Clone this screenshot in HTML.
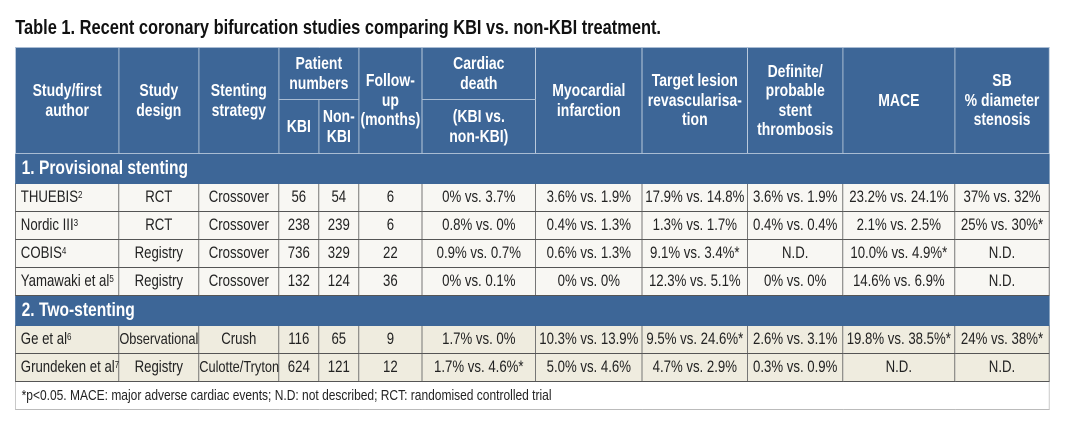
<!DOCTYPE html>
<html><head><meta charset="utf-8"><style>
body{margin:0;width:1067px;height:431px;background:#fff;font-family:"Liberation Sans",sans-serif;color:#222;position:relative;overflow:hidden}
#w{position:absolute;left:0;top:0;width:1334px;height:431px;transform:scaleX(0.8);transform-origin:0 0}
.title{position:absolute;left:19px;top:16px;font-weight:bold;font-size:20.5px;color:#111}
table{position:absolute;left:19px;top:47px;border-collapse:collapse;table-layout:fixed;width:1292px}
td,th{padding:0;text-align:center;font-size:16.5px;white-space:nowrap;overflow:hidden}
th{background:#3d6697;color:#fff;font-weight:bold;font-size:17.5px;line-height:19.5px;border:1px solid #a9bcd3}
td{border:1px solid #555;background:#f8f7f3}
tr.d td{height:27px}
tr.b td{background:#efecdf}
td.l{text-align:left;padding-left:6px}
tr.s td{background:#3d6697;color:#fff;font-weight:bold;font-size:19.5px;text-align:left;padding-left:7px;height:29px;border:1px solid #3d6697}
tr.f td{background:#fff;text-align:left;padding-left:7px;font-size:15px;height:27px;border:1px solid #bbb}
sup{font-size:10px;vertical-align:4px;line-height:0}
</style></head><body><div id="w">
<div class="title">Table 1. Recent coronary bifurcation studies comparing KBI vs. non-KBI treatment.</div>
<table>
<colgroup><col style="width:129px"><col style="width:100px"><col style="width:100px"><col style="width:50px"><col style="width:50px"><col style="width:79px"><col style="width:142px"><col style="width:133px"><col style="width:132px"><col style="width:119px"><col style="width:140px"><col style="width:118px"></colgroup>
<tr style="height:52px"><th rowspan="2">Study/first<br>author</th><th rowspan="2">Study<br>design</th><th rowspan="2">Stenting<br>strategy</th><th colspan="2">Patient<br>numbers</th><th rowspan="2">Follow-<br>up<br>(months)</th><th>Cardiac<br>death</th><th rowspan="2">Myocardial<br>infarction</th><th rowspan="2">Target lesion<br>revascularisa-<br>tion</th><th rowspan="2">Definite/<br>probable<br>stent<br>thrombosis</th><th rowspan="2">MACE</th><th rowspan="2">SB<br>% diameter<br>stenosis</th></tr>
<tr style="height:54px"><th>KBI</th><th>Non-<br>KBI</th><th>(KBI vs.<br>non-KBI)</th></tr>
<tr class="s"><td colspan="12">1. Provisional stenting</td></tr>
<tr class="d"><td class="l">THUEBIS<sup>2</sup></td><td>RCT</td><td>Crossover</td><td>56</td><td>54</td><td>6</td><td>0% vs. 3.7%</td><td>3.6% vs. 1.9%</td><td>17.9% vs. 14.8%</td><td>3.6% vs. 1.9%</td><td>23.2% vs. 24.1%</td><td>37% vs. 32%</td></tr>
<tr class="d"><td class="l">Nordic III<sup>3</sup></td><td>RCT</td><td>Crossover</td><td>238</td><td>239</td><td>6</td><td>0.8% vs. 0%</td><td>0.4% vs. 1.3%</td><td>1.3% vs. 1.7%</td><td>0.4% vs. 0.4%</td><td>2.1% vs. 2.5%</td><td>25% vs. 30%*</td></tr>
<tr class="d"><td class="l">COBIS<sup>4</sup></td><td>Registry</td><td>Crossover</td><td>736</td><td>329</td><td>22</td><td>0.9% vs. 0.7%</td><td>0.6% vs. 1.3%</td><td>9.1% vs. 3.4%*</td><td>N.D.</td><td>10.0% vs. 4.9%*</td><td>N.D.</td></tr>
<tr class="d"><td class="l">Yamawaki et al<sup>5</sup></td><td>Registry</td><td>Crossover</td><td>132</td><td>124</td><td>36</td><td>0% vs. 0.1%</td><td>0% vs. 0%</td><td>12.3% vs. 5.1%</td><td>0% vs. 0%</td><td>14.6% vs. 6.9%</td><td>N.D.</td></tr>
<tr class="s"><td colspan="12">2. Two-stenting</td></tr>
<tr class="d b"><td class="l">Ge et al<sup>6</sup></td><td style="font-size:16px">Observational</td><td>Crush</td><td>116</td><td>65</td><td>9</td><td>1.7% vs. 0%</td><td>10.3% vs. 13.9%</td><td>9.5% vs. 24.6%*</td><td>2.6% vs. 3.1%</td><td>19.8% vs. 38.5%*</td><td>24% vs. 38%*</td></tr>
<tr class="d b"><td class="l">Grundeken et al<sup>7</sup></td><td>Registry</td><td style="font-size:16px">Culotte/Tryton</td><td>624</td><td>121</td><td>12</td><td>1.7% vs. 4.6%*</td><td>5.0% vs. 4.6%</td><td>4.7% vs. 2.9%</td><td>0.3% vs. 0.9%</td><td>N.D.</td><td>N.D.</td></tr>
<tr class="f"><td colspan="12">*p&lt;0.05. MACE: major adverse cardiac events; N.D: not described; RCT: randomised controlled trial</td></tr>
</table>
</div></body></html>
